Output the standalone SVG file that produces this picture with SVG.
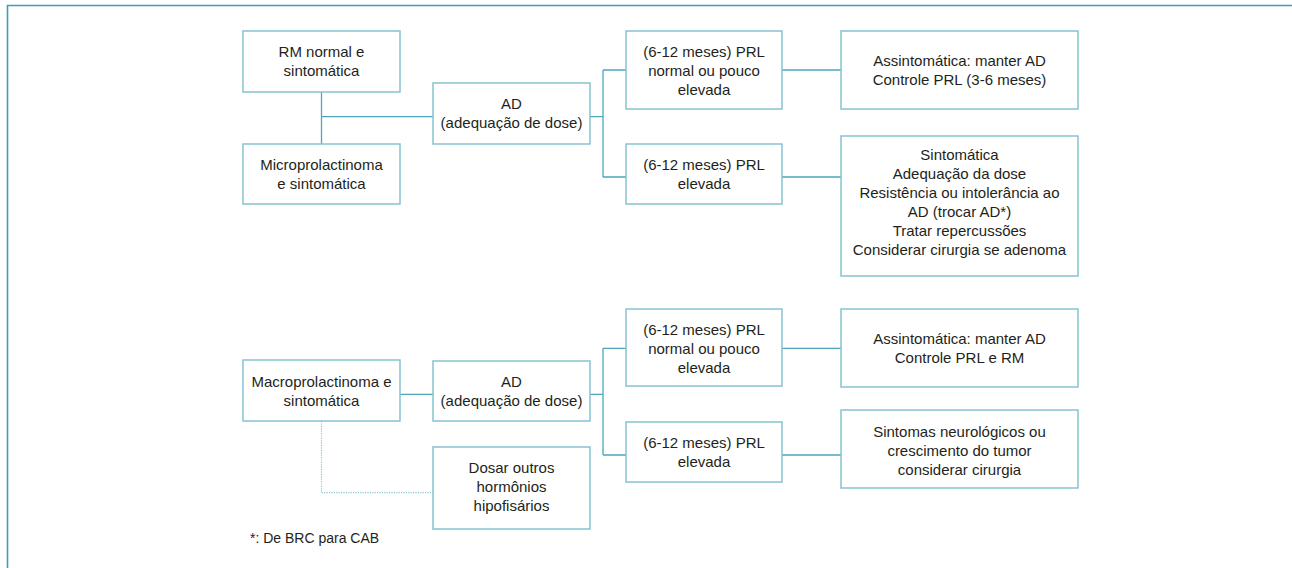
<svg xmlns="http://www.w3.org/2000/svg" width="1292" height="568" viewBox="0 0 1292 568">
<style>
.box{fill:#ffffff;stroke:#86c2d0;stroke-width:1.5}
.t{font-family:"Liberation Sans",Arial,sans-serif;font-size:15px;fill:#231f20;text-anchor:middle}
.fn{font-family:"Liberation Sans",Arial,sans-serif;font-size:14px;fill:#231f20}
.c{fill:none;stroke:#4fa5ba;stroke-width:1.3}
.d{fill:none;stroke:#8cc6d3;stroke-width:1.2;stroke-dasharray:1.2 1.2}
.frame{fill:none;stroke:#3f9db7;stroke-width:1.6}
</style>
<rect width="1292" height="568" fill="#ffffff"/>
<path class="frame" d="M7.5,568 V5.5 H1292"/>
<g id="connectors">
<path class="c" d="M321.5,92 V144"/>
<path class="c" d="M321.5,116.7 H433"/>
<path class="c" d="M590,116.7 H603 M603,70 V177 M603,70 H626 M603,177 H626"/>
<path class="c" d="M782,70 H841 M782,177 H841"/>
<path class="c" d="M400,394.3 H433"/>
<path class="c" d="M590,394.3 H603 M603,348.3 V455 M603,348.3 H626 M603,455 H626"/>
<path class="c" d="M782,348.3 H841 M782,455 H841"/>
<path class="d" d="M321.5,421 V492.7 H433"/>
</g>
<g id="n-rm">
<rect class="box" x="243" y="31" width="157" height="61"/>
<text class="t" x="321.5" y="57.3">RM normal e</text>
<text class="t" x="321.5" y="76.3">sintomática</text>
</g>
<g id="n-micro">
<rect class="box" x="243" y="144" width="157" height="60"/>
<text class="t" x="321.5" y="170">Microprolactinoma</text>
<text class="t" x="321.5" y="189">e sintomática</text>
</g>
<g id="n-ad1">
<rect class="box" x="433" y="83" width="157" height="61"/>
<text class="t" x="511.5" y="109.3">AD</text>
<text class="t" x="511.5" y="128.3">(adequação de dose)</text>
</g>
<g id="n-prl1">
<rect class="box" x="626" y="31" width="156" height="78"/>
<text class="t" x="704" y="57">(6-12 meses) PRL</text>
<text class="t" x="704" y="76">normal ou pouco</text>
<text class="t" x="704" y="95">elevada</text>
</g>
<g id="n-prl2">
<rect class="box" x="626" y="144" width="156" height="60"/>
<text class="t" x="704" y="169.8">(6-12 meses) PRL</text>
<text class="t" x="704" y="188.8">elevada</text>
</g>
<g id="n-assint1">
<rect class="box" x="841" y="31" width="237" height="78"/>
<text class="t" x="959.5" y="65.8">Assintomática: manter AD</text>
<text class="t" x="959.5" y="84.8">Controle PRL (3-6 meses)</text>
</g>
<g id="n-sint">
<rect class="box" x="841" y="136" width="237" height="140"/>
<text class="t" x="959.5" y="159.5">Sintomática</text>
<text class="t" x="959.5" y="178.5">Adequação da dose</text>
<text class="t" x="959.5" y="197.5">Resistência ou intolerância ao</text>
<text class="t" x="959.5" y="216.5">AD (trocar AD*)</text>
<text class="t" x="959.5" y="235.5">Tratar repercussões</text>
<text class="t" x="959.5" y="254.5">Considerar cirurgia se adenoma</text>
</g>
<g id="n-macro">
<rect class="box" x="243" y="360" width="157" height="61"/>
<text class="t" x="321.5" y="387">Macroprolactinoma e</text>
<text class="t" x="321.5" y="406">sintomática</text>
</g>
<g id="n-ad2">
<rect class="box" x="433" y="361" width="157" height="60"/>
<text class="t" x="511.5" y="387">AD</text>
<text class="t" x="511.5" y="406">(adequação de dose)</text>
</g>
<g id="n-dosar">
<rect class="box" x="433" y="447" width="157" height="82"/>
<text class="t" x="511.5" y="472.5">Dosar outros</text>
<text class="t" x="511.5" y="491.5">hormônios</text>
<text class="t" x="511.5" y="510.5">hipofisários</text>
</g>
<g id="n-prl3">
<rect class="box" x="626" y="309" width="156" height="77"/>
<text class="t" x="704" y="335">(6-12 meses) PRL</text>
<text class="t" x="704" y="354">normal ou pouco</text>
<text class="t" x="704" y="373">elevada</text>
</g>
<g id="n-prl4">
<rect class="box" x="626" y="422" width="156" height="60"/>
<text class="t" x="704" y="448">(6-12 meses) PRL</text>
<text class="t" x="704" y="467">elevada</text>
</g>
<g id="n-assint2">
<rect class="box" x="841" y="309" width="237" height="78"/>
<text class="t" x="959.5" y="343.5">Assintomática: manter AD</text>
<text class="t" x="959.5" y="362.5">Controle PRL e RM</text>
</g>
<g id="n-neuro">
<rect class="box" x="841" y="410" width="237" height="78"/>
<text class="t" x="959.5" y="436.5">Sintomas neurológicos ou</text>
<text class="t" x="959.5" y="455.5">crescimento do tumor</text>
<text class="t" x="959.5" y="474.5">considerar cirurgia</text>
</g>
<text class="fn" x="250" y="543.3">*: De BRC para CAB</text>
</svg>
